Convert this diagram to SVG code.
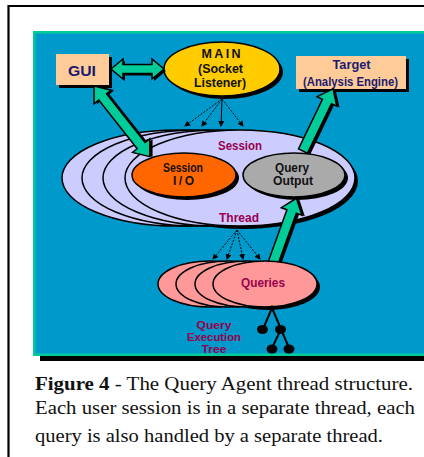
<svg xmlns="http://www.w3.org/2000/svg" width="424" height="457" viewBox="0 0 424 457">
<style>
.lbl{font-family:"Liberation Sans",Arial,sans-serif;font-weight:bold;text-anchor:middle}
.navy{fill:#1a1a6e}
.dark{fill:#111}
.mar{fill:#99004d}
.cap{font-family:"Liberation Serif","Times New Roman",serif;font-size:18px;fill:#111}
.sh{fill:#000}
.ol{stroke:#000;stroke-width:1.5}
.arr{fill:#00cc99;stroke:#000;stroke-width:1.5;stroke-linejoin:miter}
.dot{stroke:#000;stroke-width:1;stroke-dasharray:2,1.5;fill:none;marker-end:url(#ah)}
.sol{stroke:#000;stroke-width:1;fill:none;marker-end:url(#ah)}
</style>
<defs>
<marker id="ah" markerWidth="6" markerHeight="6" refX="5" refY="3" orient="auto" markerUnits="userSpaceOnUse">
<path d="M0,0 L6,3 L0,6 Z" fill="#000"/>
</marker>
</defs>
<rect width="424" height="457" fill="#fff"/>
<!-- outer frame -->
<path d="M8.5,457 V6 H424" fill="none" stroke="#000" stroke-width="2.2"/>
<!-- panel -->
<rect x="40" y="356" width="400" height="5" fill="#000"/>
<rect x="33" y="31" width="420" height="325" fill="#00cc99"/>
<rect x="35.5" y="33.5" width="420" height="320" fill="#0099cc"/>

<g id="connectors">
<path class="dot" d="M222,99 L185,126"/>
<path class="dot" d="M222,99 L202,126"/>
<path class="sol" d="M222,99 L221,126"/>
<path class="dot" d="M222,99 L243,126"/>
</g>

<g id="session-thread">
<ellipse cx="243" cy="181" rx="115" ry="48" class="sh"/>
<ellipse cx="177" cy="178" rx="115" ry="48" fill="#ccccff" class="ol" stroke-width="2"/>
<ellipse cx="197" cy="178" rx="115" ry="48" fill="#ccccff" class="ol" stroke-width="2"/>
<ellipse cx="218" cy="178" rx="115" ry="48" fill="#ccccff" class="ol" stroke-width="2"/>
<ellipse cx="240" cy="178" rx="115" ry="48" fill="#ccccff" class="ol" stroke-width="2"/>
<text class="lbl mar" x="240" y="149.5" font-size="12.5" textLength="44" lengthAdjust="spacingAndGlyphs">Session</text>
<text class="lbl mar" x="239" y="221.5" font-size="12.5" textLength="40" lengthAdjust="spacingAndGlyphs">Thread</text>
</g>

<g id="session-io">
<ellipse cx="187" cy="178" rx="52" ry="22" class="sh"/>
<ellipse cx="184" cy="175" rx="52" ry="22" fill="#ff6600" class="ol"/>
<text class="lbl dark" x="183" y="171.5" font-size="12" textLength="40" lengthAdjust="spacingAndGlyphs">Session</text>
<text class="lbl dark" x="183.5" y="185" font-size="12" textLength="21" lengthAdjust="spacing">I/O</text>
</g>

<g id="query-output">
<ellipse cx="297" cy="178" rx="51" ry="22" class="sh"/>
<ellipse cx="294" cy="175" rx="51" ry="22" fill="#aaaaaa" class="ol"/>
<text class="lbl dark" x="292" y="171.5" font-size="12" textLength="34" lengthAdjust="spacingAndGlyphs">Query</text>
<text class="lbl dark" x="293" y="185" font-size="12" textLength="40" lengthAdjust="spacingAndGlyphs">Output</text>
</g>

<g id="gui">
<rect x="59" y="57" width="53" height="31" class="sh"/>
<rect x="56" y="54" width="53" height="31" fill="#ffcc99"/>
<text class="lbl navy" x="82" y="75.5" font-size="15" textLength="28" lengthAdjust="spacingAndGlyphs">GUI</text>
</g>

<g id="target">
<rect x="299" y="59" width="110" height="33" class="sh"/>
<rect x="296" y="56" width="110" height="33" fill="#ffcc99"/>
<text class="lbl navy" x="351.5" y="68.5" font-size="12" textLength="38" lengthAdjust="spacingAndGlyphs">Target</text>
<text class="lbl navy" x="350.5" y="85.5" font-size="12" textLength="95" lengthAdjust="spacingAndGlyphs">(Analysis Engine)</text>
</g>

<g id="main">
<ellipse cx="225" cy="72" rx="58" ry="27" class="sh"/>
<ellipse cx="222" cy="69" rx="58" ry="27" fill="#ffcc00" class="ol"/>
<text class="lbl dark" x="221" y="58.3" font-size="12.5" textLength="39" lengthAdjust="spacing">MAIN</text>
<text class="lbl dark" x="220.5" y="73.3" font-size="12" textLength="45" lengthAdjust="spacingAndGlyphs">(Socket</text>
<text class="lbl dark" x="220" y="87.3" font-size="12" textLength="52" lengthAdjust="spacingAndGlyphs">Listener)</text>
</g>

<g id="connectors-2">
<g transform="translate(111,69)">
<path class="sh" transform="translate(2,2)" d="M0,0 L12,-10 L12,-4.5 L41,-4.5 L41,-10 L53,0 L41,10 L41,4.5 L12,4.5 L12,10 Z"/>
<path class="arr" d="M0,0 L12,-10 L12,-4.5 L41,-4.5 L41,-10 L53,0 L41,10 L41,4.5 L12,4.5 L12,10 Z"/>
</g>
<g transform="translate(94,86) rotate(51.7)">
<path class="sh" transform="translate(2,-2)" d="M0,0 L14,-11 L14,-5 L76,-5 L76,-11 L90,0 L76,11 L76,5 L14,5 L14,11 Z"/>
<path class="arr" d="M0,0 L14,-11 L14,-5 L76,-5 L76,-11 L90,0 L76,11 L76,5 L14,5 L14,11 Z"/>
</g>
<g transform="translate(303,151) rotate(-64.2)">
<path class="sh" transform="translate(0,3)" d="M0,-5 L55,-5 L55,-11 L69,0 L55,11 L55,5 L0,5 Z"/>
<path class="arr" d="M0,-5 L55,-5 L55,-11 L69,0 L55,11 L55,5 L0,5 Z"/>
</g>
<g transform="translate(272,266) rotate(-70.2)">
<path class="sh" transform="translate(0,3)" d="M0,-5 L58,-5 L58,-11 L72,0 L58,11 L58,5 L0,5 Z"/>
<path class="arr" d="M0,-5 L58,-5 L58,-11 L72,0 L58,11 L58,5 L0,5 Z"/>
</g>
<path class="dot" d="M237,230 L213,259"/>
<path class="dot" d="M237,230 L227,259"/>
<path class="dot" d="M237,230 L243,259"/>
<path class="dot" d="M237,230 L260,259"/>
<path d="M272,308 L263,329 M272,308 L281,329 M281,329 L272,348 M281,329 L289,348" stroke="#000" stroke-width="2" fill="none"/>
</g>

<g id="queries">
<ellipse cx="268" cy="287" rx="52" ry="23" class="sh"/>
<ellipse cx="210" cy="284" rx="52" ry="23" fill="#ff9999" class="ol" stroke-width="2"/>
<ellipse cx="228" cy="284" rx="52" ry="23" fill="#ff9999" class="ol" stroke-width="2"/>
<ellipse cx="247" cy="284" rx="52" ry="23" fill="#ff9999" class="ol" stroke-width="2"/>
<ellipse cx="265" cy="284" rx="52" ry="23" fill="#ff9999" class="ol" stroke-width="2"/>
<text class="lbl mar" x="263" y="287" font-size="12.5" textLength="44" lengthAdjust="spacingAndGlyphs">Queries</text>
</g>

<g id="execution-tree">
<ellipse cx="272" cy="308" rx="3" ry="2.5" fill="#000"/>
<ellipse cx="262.5" cy="329.5" rx="5.5" ry="4.5" fill="#000"/>
<ellipse cx="280.5" cy="329.5" rx="5.5" ry="4.5" fill="#000"/>
<ellipse cx="272" cy="349" rx="5.5" ry="4.5" fill="#000"/>
<ellipse cx="289" cy="349" rx="5.5" ry="4.5" fill="#000"/>
<text class="lbl mar" x="214" y="329" font-size="11.5" textLength="35" lengthAdjust="spacingAndGlyphs">Query</text>
<text class="lbl mar" x="214" y="341" font-size="11.5" textLength="54" lengthAdjust="spacingAndGlyphs">Execution</text>
<text class="lbl mar" x="214" y="352.5" font-size="11.5" textLength="25" lengthAdjust="spacingAndGlyphs">Tree</text>
</g>

<g id="caption">
<text class="cap" x="35" y="390" textLength="378" lengthAdjust="spacingAndGlyphs"><tspan font-weight="bold">Figure 4</tspan> - The Query Agent thread structure.</text>
<text class="cap" x="35" y="414" textLength="380" lengthAdjust="spacingAndGlyphs">Each user session is in a separate thread, each</text>
<text class="cap" x="35" y="442" textLength="348" lengthAdjust="spacingAndGlyphs">query is also handled by a separate thread.</text>
</g>
</svg>
